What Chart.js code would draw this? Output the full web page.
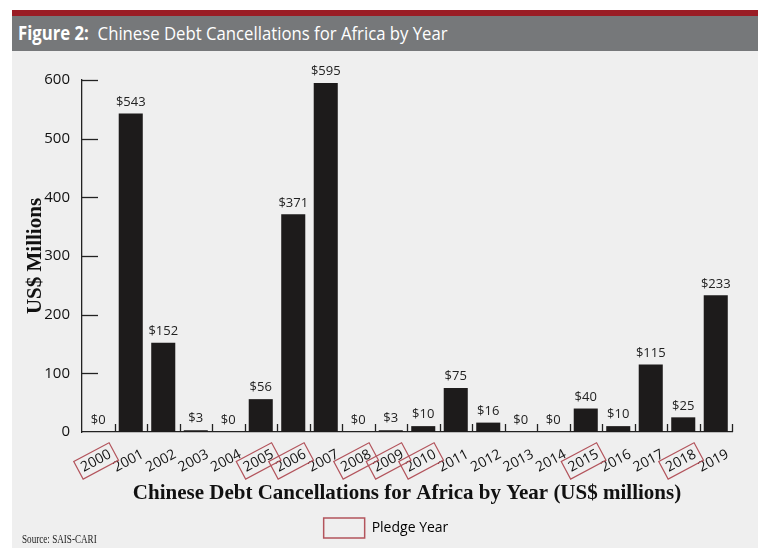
<!DOCTYPE html>
<html>
<head>
<meta charset="utf-8">
<script src="https://cdn.jsdelivr.net/npm/chart.js@4/dist/chart.umd.min.js"></script>
<style>
    body { margin: 0; background: #ffffff; width: 770px; height: 556px; position: relative; overflow: hidden; }
    #panel { position: absolute; left: 12px; top: 10px; width: 746px; height: 538px; background: #efefef; }
    #header {
        height: 35px; border-top: 6px solid #9a1d25; background: #76787a; color: #ffffff;
        font-family: "Liberation Sans Narrow", "Open Sans", sans-serif;
        font-size: 19px; line-height: 35px; padding-left: 6px; box-sizing: content-box;
        white-space: nowrap;
    }
    #header span { display: inline-block; transform: scaleX(0.88); transform-origin: left center; }
    #header b { font-weight: bold; margin-right: 5px; }
    #chartBox { position: absolute; left: 0; top: 41px; width: 746px; height: 497px; }
    #source {
        position: absolute; left: 10px; top: 522px; white-space: nowrap;
        font-family: "Liberation Serif", serif; font-size: 12px; color: #222;
        transform: scaleX(0.76); transform-origin: left center;
    }
</style>
</head>
<body>
<div id="panel">
    <div id="header"><span><b>Figure 2:</b> Chinese Debt Cancellations for Africa by Year</span></div>
    <div id="chartBox"><canvas id="debtChart"></canvas></div>
    <div id="source">Source: SAIS-CARI</div>
</div>
<script>
// Data
const years = ['2000', '2001', '2002', '2003', '2004', '2005', '2006', '2007', '2008', '2009',
    '2010', '2011', '2012', '2013', '2014', '2015', '2016', '2017', '2018', '2019'];
const cancellations = [0, 543, 152, 3, 0, 56, 371, 595, 0, 3, 10, 75, 16, 0, 0, 40, 10, 115, 25, 233];
const pledgeYears = ['2000', '2005', '2006', '2008', '2009', '2010', '2015', '2018'];
const yTicks = [0, 100, 200, 300, 400, 500, 600];

const boxRed = '#b3545c';
const sansFont = '"Open Sans", "Noto Sans", sans-serif';
const serifFont = '"Liberation Serif", "DejaVu Serif", serif';

// Value labels, inward tick marks and pledge-year boxes
const decorPlugin = {
    id: 'decor',
    afterLayout: function (chart) {
        // nudge the legend so it sits centred under the figure, not the plot
        chart.legend.left += 14;
        chart.legend.right += 14;
    },
    afterDatasetsDraw: function (chart) {
        const ctx = chart.ctx;
        const meta = chart.getDatasetMeta(0);
        ctx.save();
        ctx.fillStyle = '#222';
        ctx.font = '13px ' + sansFont;
        ctx.textAlign = 'center';
        ctx.textBaseline = 'bottom';
        meta.data.forEach((bar, i) => {
            ctx.fillText('$' + cancellations[i], bar.x, bar.y - 5);
        });
        ctx.restore();
    },
    afterDraw: function (chart) {
        const ctx = chart.ctx;
        const x = chart.scales.x;
        const y = chart.scales.y;
        const area = chart.chartArea;
        ctx.save();
        ctx.strokeStyle = '#222';
        ctx.lineWidth = 1.3;
        // y ticks pointing into the plot
        yTicks.forEach(v => {
            const py = Math.round(y.getPixelForValue(v)) + 0.5;
            if (v === 0) return;
            ctx.beginPath();
            ctx.moveTo(area.left, py);
            ctx.lineTo(area.left + 16, py);
            ctx.stroke();
        });
        // x ticks at category boundaries
        const step = (area.right - area.left) / years.length;
        for (let i = 1; i <= years.length; i++) {
            const px = Math.round(area.left + step * i) + 0.5;
            ctx.beginPath();
            ctx.moveTo(px, area.bottom);
            ctx.lineTo(px, area.bottom - 8);
            ctx.stroke();
        }
        // boxes around pledge years
        const items = x.getLabelItems();
        ctx.strokeStyle = boxRed;
        ctx.lineWidth = 1.2;
        items.forEach(item => {
            if (pledgeYears.indexOf(item.label) < 0) return;
            const opts = item.options;
            ctx.save();
            ctx.translate(opts.translation[0], opts.translation[1]);
            ctx.rotate(opts.rotation);
            ctx.font = item.font.string;
            const w = ctx.measureText(item.label).width;
            const h = item.font.size;
            ctx.strokeRect(-w - 4, item.textOffset - h / 2 - 3, w + 8, h + 6);
            ctx.restore();
        });
        ctx.restore();
    }
};

const ctx = document.getElementById('debtChart').getContext('2d');
new Chart(ctx, {
    type: 'bar',
    data: {
        labels: years,
        datasets: [{
            label: 'US$ Millions',
            data: cancellations,
            backgroundColor: '#1d1b1b',
            barPercentage: 0.74,
            categoryPercentage: 1
        }]
    },
    options: {
        responsive: true,
        maintainAspectRatio: false,
        animation: false,
        layout: { padding: { top: 29, right: 26, bottom: 0, left: 0 } },
        plugins: {
            tooltip: { enabled: false },
            legend: {
                position: 'bottom',
                labels: {
                    boxWidth: 41,
                    boxHeight: 20,
                    padding: 6,
                    color: '#111',
                    font: { family: sansFont, size: 14 },
                    generateLabels: function () {
                        return [{
                            text: 'Pledge Year',
                            fillStyle: 'rgba(0,0,0,0)',
                            strokeStyle: boxRed,
                            lineWidth: 1.5,
                            hidden: false
                        }];
                    }
                }
            }
        },
        scales: {
            x: {
                grid: { display: false, drawTicks: false },
                border: { display: true, color: '#222', width: 1.3 },
                ticks: {
                    color: '#111',
                    font: { family: sansFont, size: 14 },
                    minRotation: 28,
                    maxRotation: 28,
                    autoSkip: false,
                    padding: 14,
                    labelOffset: 12
                },
                title: {
                    display: true,
                    text: 'Chinese Debt Cancellations for Africa by Year (US$ millions)',
                    color: '#111',
                    font: { family: serifFont, size: 21, weight: 'bold' },
                    padding: { top: 0, bottom: 6 }
                },
                afterFit: function (scale) { scale.height = 80; }
            },
            y: {
                min: 0,
                max: 600,
                grid: { display: false, drawTicks: false },
                border: { display: true, color: '#222', width: 1.3 },
                ticks: {
                    stepSize: 100,
                    color: '#111',
                    padding: 12,
                    font: { family: sansFont, size: 15 }
                },
                title: {
                    display: true,
                    text: 'US$ Millions',
                    color: '#111',
                    font: { family: serifFont, size: 21, weight: 'bold' },
                    padding: { top: 11, bottom: 0 }
                },
                afterFit: function (scale) { scale.width = 70; }
            }
        }
    },
    plugins: [decorPlugin]
});
</script>
</body>
</html>
